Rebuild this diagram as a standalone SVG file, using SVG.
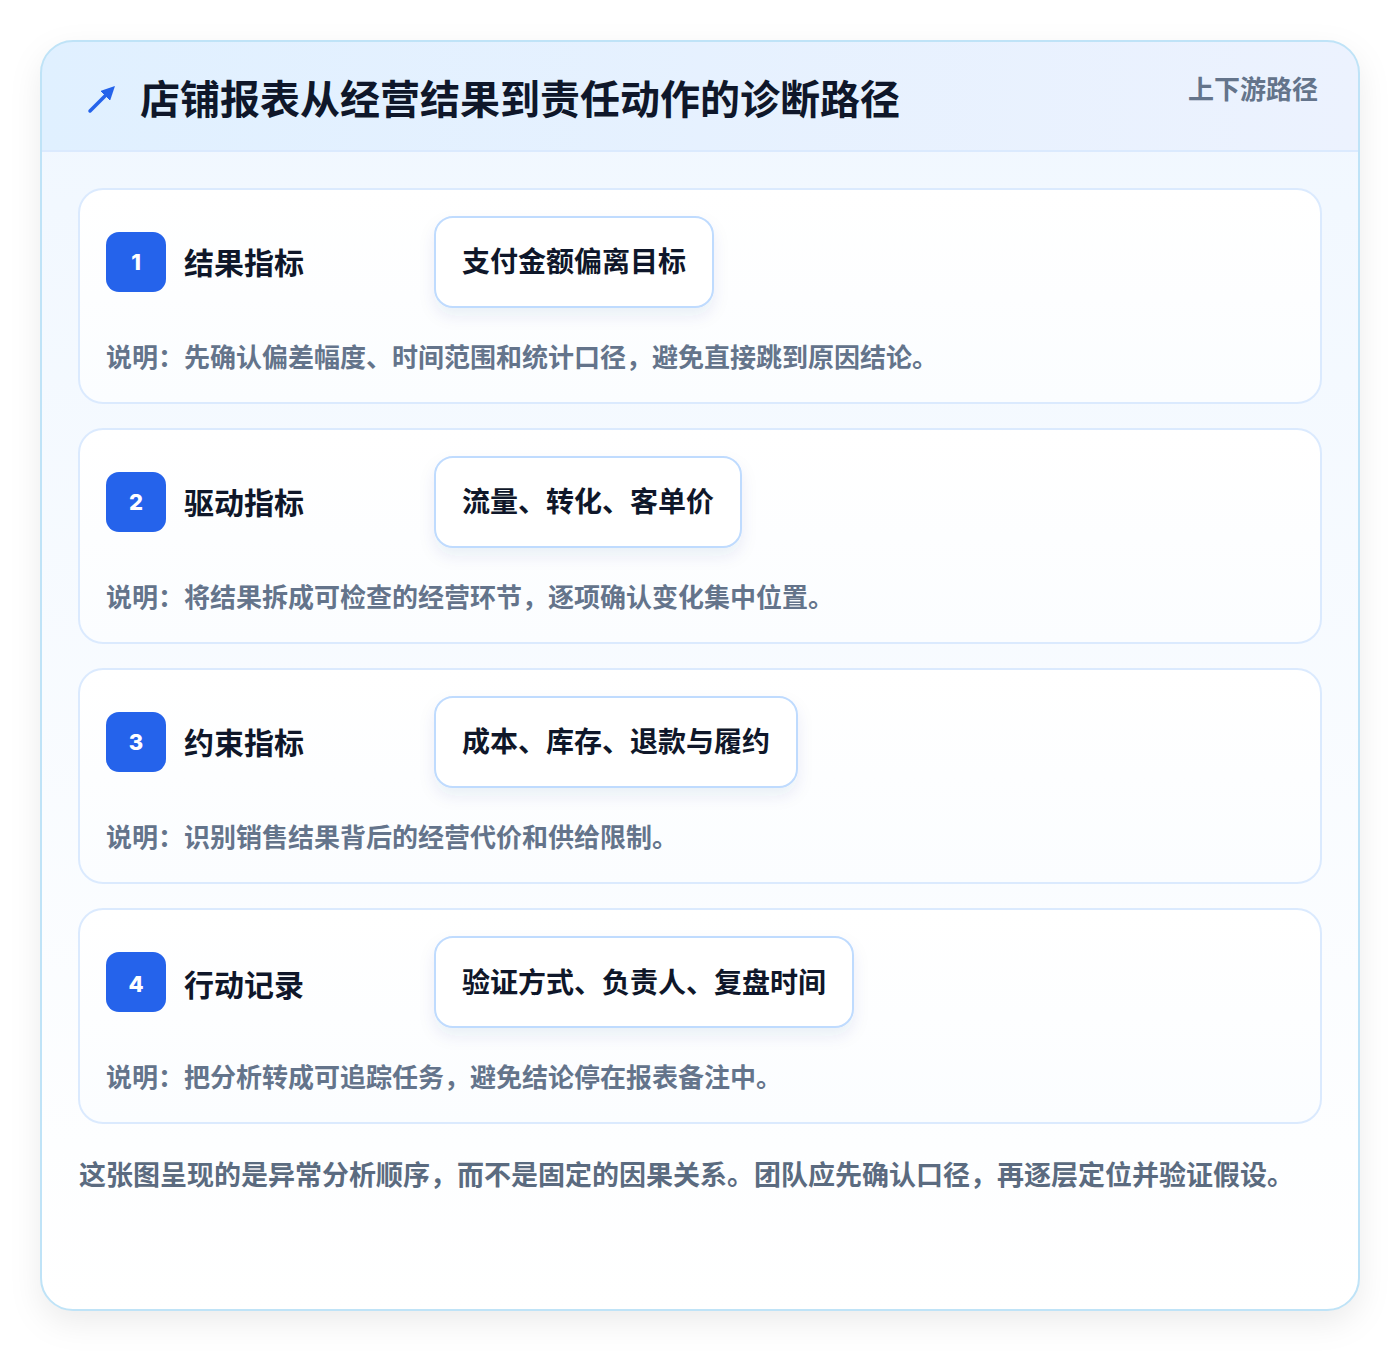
<svg xmlns="http://www.w3.org/2000/svg" width="1400" height="1352" viewBox="0 0 1400 1352">
<defs>
<linearGradient id="cardBg" x1="0" y1="0" x2="0" y2="1">
<stop offset="0" stop-color="#f0f7ff"/>
<stop offset="1" stop-color="#ffffff"/>
</linearGradient>
<linearGradient id="headBg" x1="0" y1="0" x2="1" y2="0">
<stop offset="0" stop-color="#e0f0ff"/>
<stop offset="1" stop-color="#ecf2fe"/>
</linearGradient>
<linearGradient id="panelBg" x1="0" y1="0" x2="0" y2="1">
<stop offset="0" stop-color="#ffffff"/>
<stop offset="1" stop-color="#fbfdff"/>
</linearGradient>
<filter id="cardShadow" x="-10%" y="-10%" width="120%" height="120%">
<feDropShadow dx="0" dy="12" stdDeviation="16" flood-color="#0f172a" flood-opacity="0.08"/>
</filter>
<filter id="pillShadow" x="-20%" y="-30%" width="140%" height="170%">
<feDropShadow dx="0" dy="8" stdDeviation="8" flood-color="#1e3a8a" flood-opacity="0.08"/>
</filter>
<clipPath id="cardClip"><rect x="41" y="41" width="1318" height="1269" rx="32"/></clipPath>
<marker id="arrowHead" viewBox="0 0 10 10" refX="6" refY="5" markerWidth="4" markerHeight="4" orient="auto">
<path d="M0,0 L10,5 L0,10 z" fill="#2563eb"/>
</marker>
</defs>
<style>
.panel{fill:url(#panelBg);stroke:#dbeafe;stroke-width:2}
.badge{fill:#2563eb}
.badgeNum{font-family:"Inter","Noto Sans",sans-serif;font-weight:800;font-size:22px;fill:#ffffff;text-anchor:middle}
.label{font-family:"Noto Sans CJK SC",sans-serif;font-weight:700;font-size:30px;fill:#0f172a}
.pill{fill:#ffffff;stroke:#bfdbfe;stroke-width:2}
.pillText{font-family:"Noto Sans CJK SC",sans-serif;font-weight:700;font-size:28px;fill:#0f172a}
.desc{font-family:"Noto Sans CJK SC",sans-serif;font-weight:700;font-size:26px;fill:#64748b}
</style>
<rect width="1400" height="1352" fill="#ffffff"/>
<g id="card">
<rect x="41" y="41" width="1318" height="1269" rx="32" fill="url(#cardBg)" filter="url(#cardShadow)"/>
<g clip-path="url(#cardClip)">
<rect x="41" y="41" width="1318" height="110" fill="url(#headBg)"/>
<line x1="41" y1="151" x2="1359" y2="151" stroke="#dbeafe" stroke-width="2"/>
</g>
<rect x="41" y="41" width="1318" height="1269" rx="32" fill="none" stroke="#bfe3f7" stroke-width="2"/>
</g>
<g id="header">
<line x1="90" y1="111" x2="111" y2="90" stroke="#2563eb" stroke-width="3.5" stroke-linecap="round" marker-end="url(#arrowHead)"/>
<text x="140" y="114" font-family="Noto Sans CJK SC, sans-serif" font-weight="700" font-size="40" fill="#0f172a">店铺报表从经营结果到责任动作的诊断路径</text>
<text x="1318" y="99" text-anchor="end" font-family="Noto Sans CJK SC, sans-serif" font-weight="700" font-size="26" fill="#64748b">上下游路径</text>
</g>
<g id="connectors"></g>
<g id="step1">
<rect class="panel" x="79" y="189" width="1242" height="214" rx="24"/>
<rect class="badge" x="106" y="232" width="60" height="60" rx="13"/>
<text class="badgeNum" x="136" y="270">1</text>
<text class="label" x="184" y="274">结果指标</text>
<rect class="pill" x="435" y="217" width="278" height="90" rx="18" filter="url(#pillShadow)"/>
<text class="pillText" x="462" y="272">支付金额偏离目标</text>
<text class="desc" x="106" y="367">说明：先确认偏差幅度、时间范围和统计口径，避免直接跳到原因结论。</text>
</g>
<g id="step2">
<rect class="panel" x="79" y="429" width="1242" height="214" rx="24"/>
<rect class="badge" x="106" y="472" width="60" height="60" rx="13"/>
<text class="badgeNum" x="136" y="510">2</text>
<text class="label" x="184" y="514">驱动指标</text>
<rect class="pill" x="435" y="457" width="306" height="90" rx="18" filter="url(#pillShadow)"/>
<text class="pillText" x="462" y="512">流量、转化、客单价</text>
<text class="desc" x="106" y="607">说明：将结果拆成可检查的经营环节，逐项确认变化集中位置。</text>
</g>
<g id="step3">
<rect class="panel" x="79" y="669" width="1242" height="214" rx="24"/>
<rect class="badge" x="106" y="712" width="60" height="60" rx="13"/>
<text class="badgeNum" x="136" y="750">3</text>
<text class="label" x="184" y="754">约束指标</text>
<rect class="pill" x="435" y="697" width="362" height="90" rx="18" filter="url(#pillShadow)"/>
<text class="pillText" x="462" y="752">成本、库存、退款与履约</text>
<text class="desc" x="106" y="847">说明：识别销售结果背后的经营代价和供给限制。</text>
</g>
<g id="step4">
<rect class="panel" x="79" y="909" width="1242" height="214" rx="24"/>
<rect class="badge" x="106" y="952" width="60" height="60" rx="13"/>
<text class="badgeNum" x="136" y="992">4</text>
<text class="label" x="184" y="996">行动记录</text>
<rect class="pill" x="435" y="937" width="418" height="90" rx="18" filter="url(#pillShadow)"/>
<text class="pillText" x="462" y="993">验证方式、负责人、复盘时间</text>
<text class="desc" x="106" y="1087">说明：把分析转成可追踪任务，避免结论停在报表备注中。</text>
</g>
<g id="footer">
<text x="79" y="1185" font-family="Noto Sans CJK SC, sans-serif" font-weight="700" font-size="27" fill="#5b6b80">这张图呈现的是异常分析顺序，而不是固定的因果关系。团队应先确认口径，再逐层定位并验证假设。</text>
</g>
</svg>
